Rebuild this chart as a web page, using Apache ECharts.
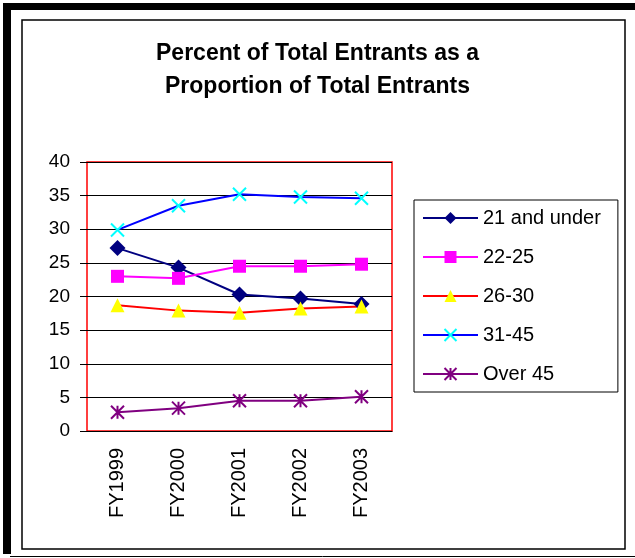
<!DOCTYPE html>
<html>
<head>
<meta charset="utf-8">
<script src="https://cdn.jsdelivr.net/npm/echarts@6/dist/echarts.min.js"></script>
<style>
  html, body { margin: 0; padding: 0; background: #fff; }
  #chart { width: 635px; height: 558px; }
</style>
</head>
<body>
<div id="chart"></div>
<script>
// fiscal years on the x axis
const years = ['FY1999', 'FY2000', 'FY2001', 'FY2002', 'FY2003']
const yTicks = [0, 5, 10, 15, 20, 25, 30, 35, 40]

// percent of entrants per age group
const under21 = [27.2, 24.3, 20.3, 19.7, 18.9]
const age22to25 = [23.0, 22.7, 24.5, 24.5, 24.8]
const age26to30 = [18.7, 17.9, 17.6, 18.2, 18.5]
const age31to45 = [29.9, 33.5, 35.2, 34.8, 34.6]
const over45 = [2.8, 3.4, 4.5, 4.5, 5.1]

const font = 'Liberation Sans, Arial, sans-serif'
const crossPath = 'path://M0,0L10,10M10,0L0,10'
const starPath = 'path://M0,0L10,10M10,0L0,10M5,0L5,10'

function lineSeries(name, data, lineColor, symbol, size, fill, stroke) {
  return {
    name: name,
    type: 'line',
    data: data,
    symbol: symbol,
    symbolSize: size,
    lineStyle: { color: lineColor, width: 2 },
    itemStyle: stroke
      ? { color: 'none', borderColor: fill, borderWidth: 2 }
      : { color: fill, borderWidth: 0 },
    emphasis: { disabled: true },
    animation: false
  }
}

const chart = echarts.init(document.getElementById('chart'))
chart.setOption({
  backgroundColor: '#fff',
  textStyle: { fontFamily: font },
  title: {
    text: 'Percent of Total Entrants as a\nProportion of Total Entrants',
    left: 'center',
    top: 32,
    textStyle: { fontFamily: font, fontSize: 23, fontWeight: 'bold', color: '#000', lineHeight: 33 }
  },
  graphic: [
    { type: 'rect', shape: { x: 3, y: 3, width: 8, height: 551 }, style: { fill: '#000' }, silent: true },
    { type: 'rect', shape: { x: 3, y: 3, width: 632, height: 7 }, style: { fill: '#000' }, silent: true },
    { type: 'line', shape: { x1: 10, y1: 556.5, x2: 635, y2: 556.5 }, style: { stroke: '#000', lineWidth: 1 }, silent: true },
    { type: 'rect', shape: { x: 22, y: 20, width: 603, height: 529 }, style: { fill: 'none', stroke: '#000', lineWidth: 1.5 }, silent: true }
  ],
  legend: {
    left: 414,
    top: 200,
    orient: 'vertical',
    padding: [8, 17, 8, 8],
    itemWidth: 55,
    itemHeight: 15,
    itemGap: 19,
    borderColor: '#000',
    borderWidth: 1,
    textStyle: { fontFamily: font, fontSize: 20, color: '#000' },
    data: ['21 and under', '22-25', '26-30', '31-45', 'Over 45']
  },
  grid: {
    left: 87, top: 162, width: 305, height: 269,
    show: true, borderColor: '#ff0000', borderWidth: 1.5,
    outerBoundsMode: 'none'
  },
  xAxis: {
    type: 'category',
    data: years,
    boundaryGap: true,
    axisLine: { lineStyle: { color: '#000', width: 1 } },
    axisTick: { length: 6, lineStyle: { color: '#000' } },
    axisLabel: { rotate: 90, fontSize: 20, color: '#000', margin: 17, fontFamily: font }
  },
  yAxis: {
    type: 'value',
    min: yTicks[0],
    max: yTicks[yTicks.length - 1],
    interval: 5,
    axisLine: { show: false },
    axisTick: { show: true, length: 7, lineStyle: { color: '#000' } },
    axisLabel: { fontSize: 19, color: '#000', margin: 17, fontFamily: font },
    splitLine: { lineStyle: { color: '#000', width: 1 } }
  },
  series: [
    lineSeries('21 and under', under21, '#000080', 'diamond', 16, '#000080', false),
    lineSeries('22-25', age22to25, '#ff00ff', 'rect', 13, '#ff00ff', false),
    lineSeries('26-30', age26to30, '#ff0000', 'triangle', 14, '#ffff00', false),
    lineSeries('31-45', age31to45, '#0000ff', crossPath, 13, '#00ffff', true),
    lineSeries('Over 45', over45, '#800080', starPath, 13, '#800080', true)
  ]
})
</script>
</body>
</html>
